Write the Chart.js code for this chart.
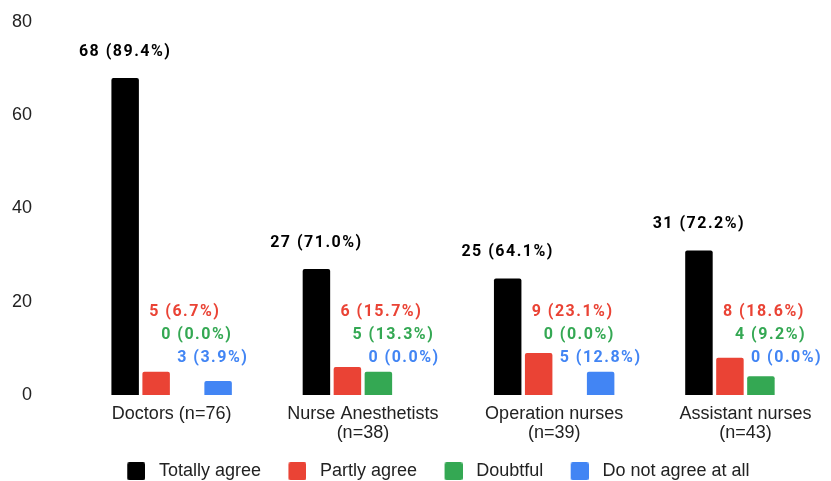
<!DOCTYPE html>
<html>
<head>
<meta charset="utf-8">
<script src="https://cdn.jsdelivr.net/npm/chart.js@4/dist/chart.umd.min.js"></script>
<style>
  html, body { margin: 0; padding: 0; background: #fff; overflow: hidden; }
  #wrap { width: 831px; height: 481px; position: relative; }
</style>
</head>
<body>
<div id="wrap"><canvas id="chart"></canvas></div>
<script>
// Staff groups (multi-line axis labels)
const categories = [
  ['Doctors (n=76)'],
  ['Nurse Anesthetists', '(n=38)'],
  ['Operation nurses', '(n=39)'],
  ['Assistant nurses', '(n=43)']
];
const seriesNames = ['Totally agree', 'Partly agree', 'Doubtful', 'Do not agree at all'];

// Counts per answer
const totallyAgree = [68, 27, 25, 31];
const partlyAgree  = [5, 6, 9, 8];
const doubtful     = [0, 5, 0, 4];
const notAgree     = [3, 0, 5, 0];

// Percentages printed next to the counts
const totallyAgreePct = ['89.4', '71.0', '64.1', '72.2'];
const partlyAgreePct  = ['6.7', '15.7', '23.1', '18.6'];
const doubtfulPct     = ['0.0', '13.3', '0.0', '9.2'];
const notAgreePct     = ['3.9', '0.0', '12.8', '0.0'];

const yTicks = [0, 20, 40, 60, 80];

const seriesValues = [totallyAgree, partlyAgree, doubtful, notAgree];
const seriesPct = [totallyAgreePct, partlyAgreePct, doubtfulPct, notAgreePct];
const colors = ['#000000', '#ea4335', '#34a853', '#4285f4'];

// Label placement: first series sits above its bar, the others are
// stacked in rows to the right of the group's first bar.
const labelAbove = 26;
const labelShift = [0, 24, 36, 52];
const labelRise = [0, 83, 60, 37];

Chart.defaults.font.family = '"Liberation Sans", Arial, sans-serif';
Chart.defaults.font.size = 18;
Chart.defaults.color = '#222';

// Legend swatch: 18px rounded square at the right end of a wider image,
// which sets the gap between the square and its text.
function swatch(color) {
  const c = document.createElement('canvas');
  c.width = 33; c.height = 18;
  const g = c.getContext('2d');
  g.fillStyle = color;
  g.beginPath();
  g.roundRect(15, 0, 18, 18, 2);
  g.fill();
  return c;
}
const swatches = colors.map(swatch);

// Scale boxes keep a fixed size; spacing comes from layout.padding
function noPadding(s) {
  s.paddingLeft = 0; s.paddingRight = 0; s.paddingTop = 0; s.paddingBottom = 0;
}

const valueLabels = {
  id: 'valueLabels',
  afterDatasetsDraw(chart) {
    const ctx = chart.ctx;
    const zero = chart.scales.y.getPixelForValue(0);
    const lead = chart.getDatasetMeta(0).data;
    ctx.save();
    ctx.font = 'bold 16px Roboto, "Liberation Sans", sans-serif';
    if ('letterSpacing' in ctx) ctx.letterSpacing = '1.5px';
    ctx.textBaseline = 'middle';
    chart.data.datasets.forEach((ds, di) => {
      chart.getDatasetMeta(di).data.forEach((bar, i) => {
        const text = seriesValues[di][i] + ' (' + seriesPct[di][i] + '%)';
        ctx.fillStyle = colors[di];
        if (di === 0) {
          ctx.textAlign = 'center';
          ctx.fillText(text, bar.x, bar.y - labelAbove);
        } else {
          ctx.textAlign = 'left';
          ctx.fillText(text, lead[i].x + labelShift[di], zero - labelRise[di]);
        }
      });
    });
    ctx.restore();
  }
};

new Chart(document.getElementById('chart'), {
  type: 'bar',
  data: {
    datasets: seriesNames.map((name, di) => ({
      label: name,
      data: seriesValues[di].map((v, i) => ({ x: i, y: v })),
      backgroundColor: colors[di],
      borderRadius: 2,
      borderSkipped: 'start',
      categoryPercentage: 0.648,
      barPercentage: 0.887
    }))
  },
  options: {
    responsive: true,
    maintainAspectRatio: false,
    animation: false,
    layout: { padding: { top: 22, right: 50, bottom: -9.3, left: 0 } },
    scales: {
      x: {
        type: 'linear',
        offset: false,
        min: -0.5,
        max: 3.186,
        bounds: 'data',
        grid: { display: false, drawTicks: false, offset: false },
        border: { display: false },
        afterBuildTicks: s => { s.ticks = categories.map((_, i) => ({ value: i })); },
        afterFit: s => { s.height = 59.6; noPadding(s); },
        ticks: {
          padding: 10,
          autoSkip: false,
          maxRotation: 0,
          font: { size: 18, lineHeight: 1.05 },
          color: '#222',
          callback: v => categories[v]
        }
      },
      y: {
        min: yTicks[0],
        max: yTicks[yTicks.length - 1],
        grid: { display: false, drawTicks: false },
        border: { display: false },
        afterBuildTicks: s => { s.ticks = yTicks.map(v => ({ value: v })); },
        afterFit: s => { s.width = 76; noPadding(s); },
        ticks: { padding: 44, font: { size: 18 }, color: '#222' }
      }
    },
    plugins: {
      tooltip: { enabled: false },
      legend: {
        position: 'bottom',
        fullSize: false,
        align: 'center',
        labels: {
          usePointStyle: true,
          pointStyleWidth: 42.4,
          boxHeight: 18,
          padding: 7.7,
          color: '#222',
          font: { size: 18 },
          generateLabels(chart) {
            const items = Chart.defaults.plugins.legend.labels.generateLabels(chart);
            items.forEach((it, i) => { it.pointStyle = swatches[i]; it.fontColor = '#222'; });
            return items;
          }
        }
      }
    }
  },
  plugins: [valueLabels]
});
</script>
</body>
</html>
